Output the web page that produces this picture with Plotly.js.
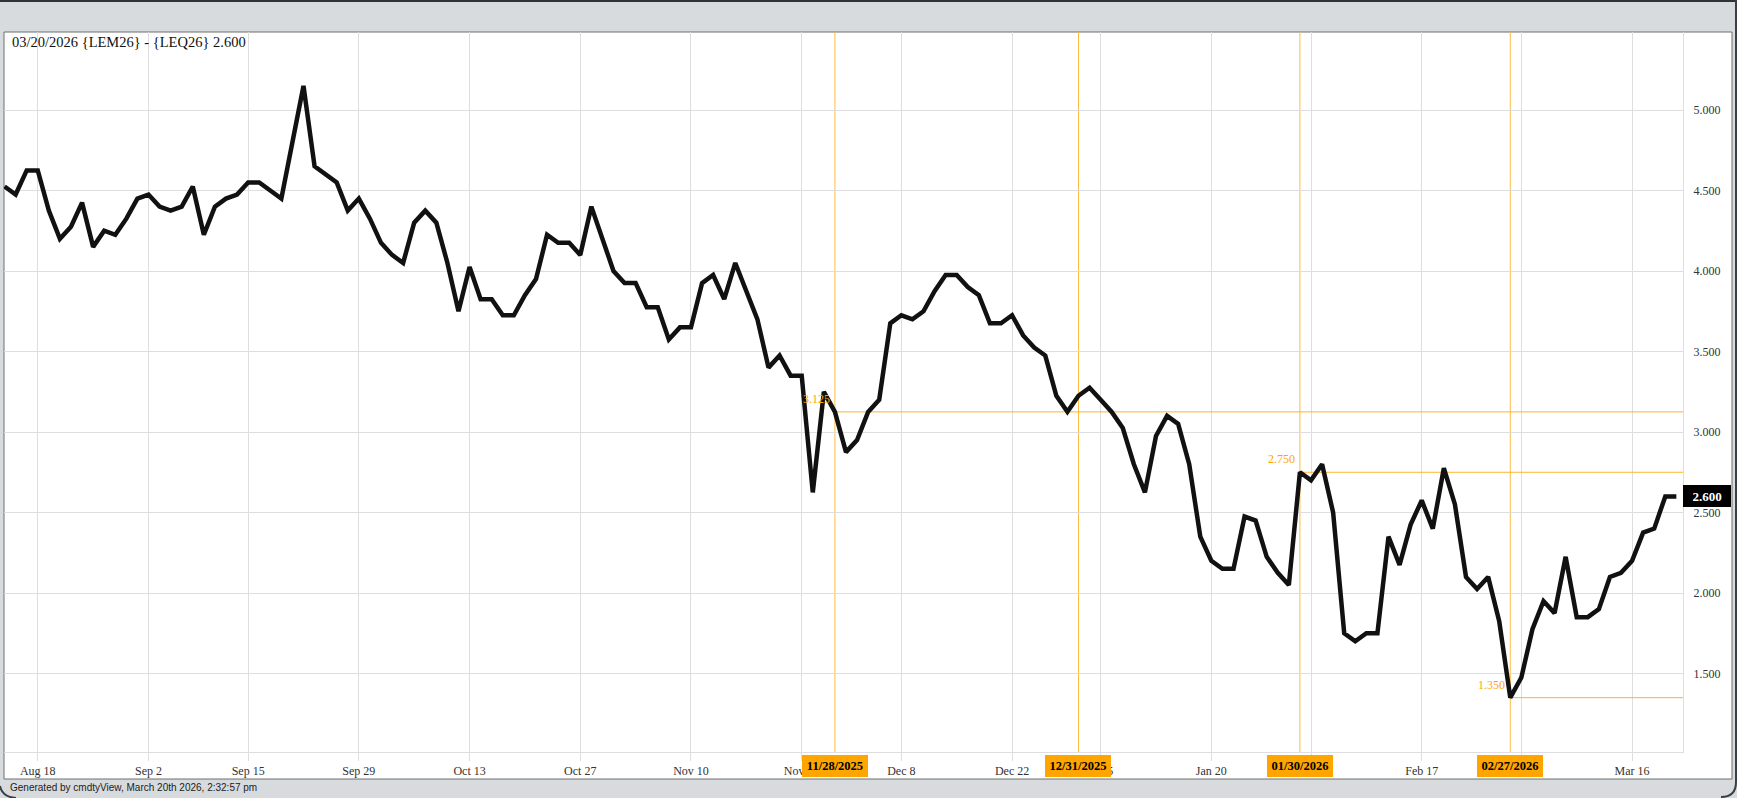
<!DOCTYPE html>
<html>
<head>
<meta charset="utf-8">
<script src="https://cdn.plot.ly/plotly-3.0.1.min.js"></script>
<style>
html,body{margin:0;padding:0;background:#d8dbde;overflow:hidden;}
#chart{width:1737px;height:798px;}
</style>
</head>
<body>
<div id="chart"></div>
<script>
// ---------- DATA ----------
const startDate = '2025-08-13';
const endDate = '2026-03-20';
const holidays = ['2025-09-01','2025-11-27','2025-12-25','2026-01-01','2026-01-19','2026-02-16'];

const spreadValues = [
  4.525,4.475,4.625,4.625,4.375,4.200,4.275,4.425,4.150,4.250,
  4.225,4.325,4.450,4.475,4.400,4.375,4.400,4.525,4.225,4.400,
  4.450,4.475,4.550,4.550,4.500,4.450,4.800,5.150,4.650,4.600,
  4.550,4.375,4.450,4.325,4.175,4.100,4.050,4.300,4.375,4.300,
  4.050,3.750,4.025,3.825,3.825,3.725,3.725,3.850,3.950,4.225,
  4.175,4.175,4.100,4.400,4.200,4.000,3.925,3.925,3.775,3.775,
  3.575,3.650,3.650,3.925,3.975,3.825,4.050,3.875,3.700,3.400,
  3.475,3.350,3.350,2.625,3.250,3.125,2.875,2.950,3.125,3.200,
  3.675,3.725,3.700,3.750,3.875,3.975,3.975,3.900,3.850,3.675,
  3.675,3.725,3.600,3.525,3.475,3.225,3.125,3.225,3.275,3.200,
  3.125,3.025,2.800,2.625,2.975,3.100,3.050,2.800,2.350,2.200,
  2.150,2.150,2.475,2.450,2.225,2.125,2.050,2.750,2.700,2.800,
  2.500,1.750,1.700,1.750,1.750,2.350,2.175,2.425,2.575,2.400,
  2.775,2.550,2.100,2.025,2.100,1.825,1.350,1.475,1.775,1.950,
  1.875,2.225,1.850,1.850,1.900,2.100,2.125,2.200,2.375,2.400,
  2.600,2.600
];

const tickDates = ['2025-08-18','2025-09-02','2025-09-15','2025-09-29','2025-10-13','2025-10-27',
  '2025-11-10','2025-11-24','2025-12-08','2025-12-22','2026-01-05','2026-01-20',
  '2026-02-02','2026-02-17','2026-03-02','2026-03-16'];
const tickLabels = ['Aug 18','Sep 2','Sep 15','Sep 29','Oct 13','Oct 27',
  'Nov 10','Nov 24','Dec 8','Dec 22','Jan 5','Jan 20',
  'Feb 2','Feb 17','Mar 2','Mar 16'];

const markerDates = ['2025-11-28','2025-12-31','2026-01-30','2026-02-27'];
const markerLabels = ['11/28/2025','12/31/2025','01/30/2026','02/27/2026'];
const levelDates = ['2025-11-28','2026-01-30','2026-02-27'];

const yTickValues = [1.5,2.0,2.5,3.0,3.5,4.0,4.5,5.0];
const titleText = '03/20/2026 {LEM26} - {LEQ26} 2.600';
const footerText = 'Generated by cmdtyView, March 20th 2026, 2:32:57 pm';

// ---------- BUILD ----------
function tradingDays(s, e, hol) {
  const out = [];
  let d = new Date(s + 'T00:00:00Z');
  const end = new Date(e + 'T00:00:00Z');
  while (d <= end) {
    const w = d.getUTCDay();
    const iso = d.toISOString().slice(0, 10);
    if (w !== 0 && w !== 6 && hol.indexOf(iso) < 0) out.push(iso);
    d = new Date(d.getTime() + 86400000);
  }
  return out;
}
const dates = tradingDays(startDate, endDate, holidays);

// geometry helpers (pixel -> paper)
const W = 1737, H = 798;
const M = {l: 4, r: 54, t: 32, b: 46};
const PW = W - M.l - M.r, PH = H - M.t - M.b;
const px = x => (x - M.l) / PW;
const py = y => (H - M.b - y) / PH;

const xMax = dates.length - 1 + 0.6;
const orange = '#ffa500';
const serif = 'Liberation Serif, Times New Roman, serif';

const shapes = [
  // white panel
  {type: 'rect', xref: 'paper', yref: 'paper', x0: px(4), x1: px(1732), y0: py(779), y1: py(32),
   fillcolor: '#ffffff', line: {color: '#6e6e6e', width: 1}, layer: 'below'},
  // window top border
  {type: 'rect', xref: 'paper', yref: 'paper', x0: px(0), x1: px(1737), y0: py(2), y1: py(0),
   fillcolor: '#2f343a', line: {width: 0}, layer: 'below'},
  // window right border + rounded corners
  {type: 'path', xref: 'paper', yref: 'paper',
   path: `M ${px(1736)} ${py(0)} L ${px(1736)} ${py(782)} Q ${px(1736)} ${py(797)} ${px(1721)} ${py(797)}`,
   line: {color: '#3a3f45', width: 2}, layer: 'below'},
  {type: 'path', xref: 'paper', yref: 'paper',
   path: `M ${px(0)} ${py(786)} Q ${px(2)} ${py(797)} ${px(16)} ${py(798)}`,
   line: {color: '#3a3f45', width: 2}, layer: 'below'}
];

markerDates.forEach(d => {
  const i = dates.indexOf(d);
  shapes.push({type: 'line', xref: 'x', yref: 'paper', x0: i, x1: i, y0: 0, y1: 1,
    line: {color: '#ffbb44', width: 1}, layer: 'between'});
});
levelDates.forEach(d => {
  const i = dates.indexOf(d);
  shapes.push({type: 'line', xref: 'x', yref: 'y', x0: i, x1: xMax, y0: spreadValues[i], y1: spreadValues[i],
    line: {color: '#ffb22a', width: 1}, layer: 'between'});
});

const annotations = [
  {xref: 'paper', yref: 'paper', x: px(10), y: py(42), xanchor: 'left', yanchor: 'middle',
   text: titleText, showarrow: false, font: {family: serif, size: 14.5, color: '#111'}},
  {xref: 'paper', yref: 'paper', x: px(8), y: py(787), xanchor: 'left', yanchor: 'middle',
   text: footerText, showarrow: false, font: {family: 'Liberation Sans, Arial, sans-serif', size: 10, color: '#222'}},
  {xref: 'paper', yref: 'y', x: 1, y: spreadValues[spreadValues.length - 1], xanchor: 'left', yanchor: 'middle',
   text: '<b>' + spreadValues[spreadValues.length - 1].toFixed(3) + '</b>', showarrow: false,
   bgcolor: '#000000', bordercolor: '#000000', borderwidth: 1, borderpad: 3,
   width: 40, height: 14, font: {family: serif, size: 13, color: '#ffffff'}}
];

markerDates.forEach((d, k) => {
  const i = dates.indexOf(d);
  annotations.push({xref: 'x', yref: 'paper', x: i, y: py(765.5), xanchor: 'center', yanchor: 'middle',
    text: '<b>' + markerLabels[k] + '</b>', showarrow: false,
    bgcolor: orange, bordercolor: orange, borderwidth: 1, borderpad: 2, width: 60, height: 16,
    font: {family: serif, size: 12.5, color: '#000'}});
});
levelDates.forEach(d => {
  const i = dates.indexOf(d);
  annotations.push({xref: 'x', yref: 'y', x: i, y: spreadValues[i], xanchor: 'right', yanchor: 'middle',
    xshift: -3, yshift: 13, text: spreadValues[i].toFixed(3), showarrow: false,
    font: {family: serif, size: 12, color: orange}});
});

const trace = {
  x: dates, y: spreadValues, type: 'scatter', mode: 'lines',
  line: {color: '#111111', width: 4.5}, hoverinfo: 'skip', showlegend: false
};

const grid = '#dedede';
const layout = {
  width: W, height: H, autosize: false,
  margin: M,
  paper_bgcolor: '#d8dbde',
  plot_bgcolor: 'rgba(0,0,0,0)',
  showlegend: false,
  xaxis: {
    type: 'category', categoryorder: 'array', categoryarray: dates,
    range: [-0.05, xMax],
    tickmode: 'array', tickvals: tickDates, ticktext: tickLabels,
    showgrid: true, gridcolor: grid, gridwidth: 1,
    ticks: 'outside', ticklen: 8, tickcolor: grid, tickwidth: 1,
    showline: true, linecolor: grid, linewidth: 1,
    zeroline: false, fixedrange: true,
    tickfont: {family: serif, size: 12, color: '#333'}
  },
  yaxis: {
    side: 'right', range: [1.0125, 5.4845],
    tickmode: 'array', tickvals: yTickValues, tickformat: '.3f',
    showgrid: true, gridcolor: grid, gridwidth: 1,
    ticks: '', ticklabelstandoff: 7,
    showline: true, linecolor: grid, linewidth: 1,
    zeroline: false, fixedrange: true,
    tickfont: {family: serif, size: 12, color: '#333'}
  },
  shapes: shapes,
  annotations: annotations
};

Plotly.newPlot('chart', [trace], layout, {displayModeBar: false, staticPlot: true});
</script>
</body>
</html>
